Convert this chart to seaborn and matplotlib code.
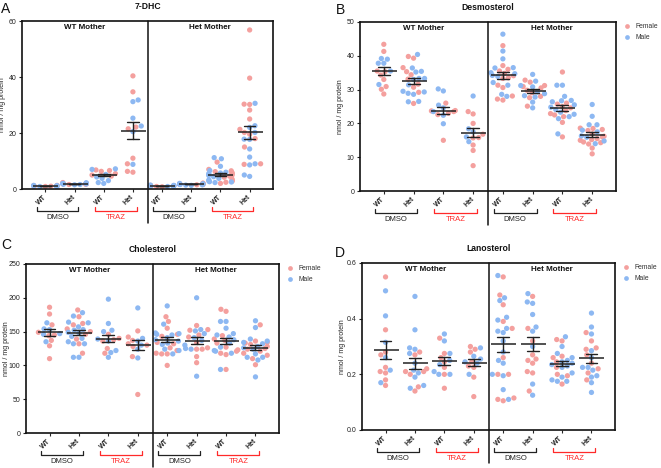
import numpy as np
import pandas as pd
import matplotlib
matplotlib.use("Agg")
import matplotlib.pyplot as plt
from matplotlib.ticker import FormatStrFormatter
from matplotlib.transforms import blended_transform_factory
import seaborn as sns
import warnings
warnings.filterwarnings("ignore")

sns.set_style("ticks")
plt.rcParams['font.family'] = ['Liberation Sans', 'DejaVu Sans']

mothers = ["WT Mother", "Het Mother"]
treatments = ["DMSO", "TRAZ"]
genotypes = ["WT", "Het"]
sexes = ["Female", "Male"]
ylabel = "nmol / mg protein"

# 7-DHC
dhc_f = [
    [1.3, 1.1, 1.0, 1.2, 0.9, 1.0],
    [2.3, 2.0, 1.8, 1.9, 1.7, 1.6, 2.1, 1.8],
    [6.8, 6.6, 6.3, 5.5, 5.0, 4.6],
    [40.4, 34.7, 22.1, 21.5, 11.0, 9.0, 6.0, 6.3],
    [1.2, 1.0, 0.9, 1.3, 1.1, 0.8],
    [1.8, 2.0, 1.7, 1.9, 1.6, 1.5, 2.1],
    [9.6, 7.0, 6.2, 5.8, 5.4, 5.0, 4.6, 4.2, 3.5, 3.0, 2.8, 2.4, 2.0, 6.5],
    [56.8, 39.6, 30.3, 30.2, 28.2, 25.0, 21.3, 20.2, 19.6, 18.0, 15.0, 8.8, 9.0],
]
dhc_m = [
    [1.3, 1.2, 1.0, 0.9, 1.1, 1.0],
    [2.2, 2.0, 1.9, 1.7, 1.6, 1.8, 1.5, 2.1, 1.9],
    [7.2, 7.0, 5.2, 4.3, 3.8, 3.0, 2.3, 2.0],
    [31.8, 31.2, 25.3, 22.5, 20.5, 8.8],
    [1.3, 1.2, 1.1, 1.0, 0.9, 1.4, 1.0, 1.2],
    [1.9, 1.7, 1.6, 1.8, 1.4, 2.0, 1.5, 1.7, 1.3],
    [11.2, 10.8, 8.1, 6.6, 6.0, 5.7, 5.5, 5.2, 4.8, 4.4, 3.8, 3.2, 2.9, 2.6, 2.5, 2.3],
    [30.6, 22.6, 22.0, 20.2, 17.8, 17.7, 14.3, 11.4, 9.0, 8.6, 5.0, 4.5],
]

# Desmosterol
des_f = [
    [43.4, 41.3, 35.5, 35.3, 34.3, 33.0, 30.9, 30.1, 28.7],
    [39.8, 39.3, 36.5, 35.3, 34.4, 33.1, 31.6, 30.7, 29.2, 25.9],
    [26.0, 23.7, 23.8, 23.5, 22.6, 23.0, 15.0],
    [23.5, 22.8, 20.0, 16.8, 15.7, 15.8, 13.6, 12.0, 7.5],
    [43.0, 37.1, 36.0, 35.5, 34.8, 34.1, 33.5, 33.3, 31.3, 30.6, 28.1, 27.2, 26.9],
    [32.8, 32.2, 31.2, 30.9, 30.5, 29.8, 29.1, 28.0, 27.6, 25.1],
    [35.2, 26.0, 25.7, 25.0, 24.6, 23.8, 22.5, 22.9, 22.0, 20.3, 16.0],
    [18.6, 18.5, 18.2, 17.9, 16.9, 16.0, 16.2, 15.5, 15.2, 15.0, 14.5, 14.3, 13.9, 12.7, 11.0],
]
des_m = [
    [39.0, 39.2, 37.8, 37.8, 35.5, 31.5],
    [40.4, 36.4, 35.4, 35.2, 33.3, 33.0, 33.3, 31.4, 29.5, 29.3, 28.9, 28.6, 26.5, 26.4],
    [30.2, 29.6, 25.4, 24.6, 23.5, 22.4, 19.9],
    [28.1, 18.4, 17.5, 16.0, 14.6],
    [46.4, 41.4, 39.1, 36.4, 36.5, 35.0, 34.7, 34.2, 33.9, 32.1, 31.3, 28.6, 28.0],
    [34.5, 32.5, 31.2, 30.8, 29.3, 28.8, 28.2, 27.8, 26.3, 24.6],
    [31.3, 31.3, 28.0, 26.8, 26.4, 26.7, 25.5, 24.8, 24.1, 23.3, 22.7, 22.0, 21.4, 16.9],
    [25.6, 22.1, 19.6, 19.6, 18.0, 17.5, 16.3, 15.9, 14.8, 14.0],
]

# Cholesterol
chol_f = [
    [186, 176, 160, 149, 145, 144, 137, 129, 110],
    [182, 172, 162, 160, 154, 150, 146, 139, 132, 118],
    [146, 140, 138, 136, 125, 118],
    [151, 142, 137, 132, 130, 128, 113, 57],
    [172, 165, 155, 146, 143, 134, 132, 126, 122, 118, 117, 117, 100],
    [159, 153, 152, 145, 142, 134, 126, 124, 124, 113, 104],
    [183, 180, 144, 139, 137, 133, 127, 123, 121, 118, 116, 94],
    [160, 136, 134, 133, 131, 128, 125, 124, 121, 118, 115, 110, 101],
]
chol_m = [
    [163, 154, 153, 147, 146, 135],
    [178, 173, 164, 163, 157, 153, 152, 149, 148, 143, 140, 135, 132, 132, 112, 112],
    [198, 162, 152, 150, 139, 136, 122, 119, 112],
    [185, 140, 136, 130, 124, 111],
    [188, 161, 148, 147, 146, 145, 141, 138, 136, 133, 131, 124, 122, 117],
    [200, 153, 151, 147, 141, 137, 130, 125, 124, 84],
    [165, 165, 155, 147, 145, 142, 138, 133, 127, 122, 121, 118, 94],
    [166, 156, 139, 136, 134, 132, 128, 126, 124, 117, 112, 112, 108, 83],
]

# Lanosterol
lan_f = [
    [0.55, 0.36, 0.28, 0.27, 0.225, 0.205, 0.21, 0.18, 0.16],
    [0.28, 0.27, 0.22, 0.21, 0.21, 0.20, 0.155, 0.14],
    [0.33, 0.275, 0.26, 0.245, 0.225, 0.20, 0.15],
    [0.30, 0.29, 0.28, 0.245, 0.23, 0.225, 0.19, 0.12],
    [0.55, 0.485, 0.45, 0.39, 0.365, 0.26, 0.20, 0.20, 0.115, 0.105, 0.11],
    [0.48, 0.365, 0.32, 0.27, 0.255, 0.25, 0.24, 0.21, 0.205, 0.14],
    [0.325, 0.32, 0.265, 0.26, 0.245, 0.225, 0.20, 0.195, 0.165],
    [0.35, 0.32, 0.295, 0.29, 0.27, 0.24, 0.22, 0.205, 0.18],
]
lan_m = [
    [0.50, 0.41, 0.315, 0.26, 0.215, 0.17],
    [0.48, 0.36, 0.295, 0.29, 0.275, 0.24, 0.215, 0.205, 0.19, 0.16, 0.15],
    [0.345, 0.32, 0.275, 0.25, 0.235, 0.21, 0.20, 0.20],
    [0.295, 0.265, 0.255, 0.245, 0.24, 0.20],
    [0.555, 0.475, 0.465, 0.405, 0.395, 0.365, 0.355, 0.35, 0.32, 0.28, 0.25, 0.24, 0.20, 0.195, 0.145, 0.11],
    [0.49, 0.46, 0.455, 0.415, 0.37, 0.355, 0.30, 0.165, 0.125],
    [0.335, 0.30, 0.275, 0.26, 0.25, 0.245, 0.24, 0.235, 0.23, 0.225, 0.205, 0.19, 0.18, 0.175, 0.175],
    [0.42, 0.37, 0.345, 0.285, 0.26, 0.225, 0.225, 0.215, 0.195, 0.19, 0.17, 0.135],
]

groups = [f"{m}|{t}|{g}" for m in mothers for t in treatments for g in genotypes]
tick_labels = [g for m in mothers for t in treatments for g in genotypes]
palette = {"Female": "#F4A09E", "Male": "#8DB8F2"}
treat_colors = {"DMSO": "#222222", "TRAZ": "#FF2A2A"}


def make_df(fem, male):
    rows = []
    for grp, fv, mv in zip(groups, fem, male):
        rows += [(grp, "Female", v) for v in fv]
        rows += [(grp, "Male", v) for v in mv]
    return pd.DataFrame(rows, columns=["group", "sex", "value"])


panels = [
    ("A", "7-DHC", dhc_f, dhc_m, (0, 60), [0, 20, 40, 60], "%d", False,
     [22 / 661, 1 - 189 / 468, 251 / 661, 168 / 468], (1, 2)),
    ("B", "Desmosterol", des_f, des_m, (0, 50), [0, 10, 20, 30, 40, 50], "%d", True,
     [360 / 661, 1 - 191 / 468, 256 / 661, 169 / 468], (336, 3)),
    ("C", "Cholesterol", chol_f, chol_m, (0, 250), [0, 50, 100, 150, 200, 250], "%d", True,
     [26 / 661, 1 - 433 / 468, 253 / 661, 169 / 468], (1, 238)),
    ("D", "Lanosterol", lan_f, lan_m, (0, 0.6), [0.0, 0.2, 0.4, 0.6], "%.1f", True,
     [362 / 661, 1 - 430 / 468, 253 / 661, 167 / 468], (335, 246)),
]

fig = plt.figure(figsize=(6.61, 4.68), dpi=100)
XLIM = (-0.8, 7.8)

for letter, title, fem, male, ylim, yticks, fmt, show_leg, rect, lpos in panels:
    ax = fig.add_axes(rect)
    df = make_df(fem, male)
    sns.swarmplot(data=df, x="group", y="value", hue="sex", order=groups,
                  hue_order=sexes, palette=palette, size=3.8, linewidth=0,
                  ax=ax, legend=show_leg, zorder=2)
    sns.pointplot(data=df, x="group", y="value", order=groups, errorbar="se",
                  capsize=0.4, color="#222222", marker="_", markersize=18,
                  markeredgewidth=1.1, linestyle="none",
                  err_kws={"linewidth": 1.0}, ax=ax, zorder=5)
    ax.set_xlim(*XLIM)
    ax.set_ylim(*ylim)
    ax.set_yticks(yticks)
    ax.yaxis.set_major_formatter(FormatStrFormatter(fmt))
    ax.set_xticks(range(len(groups)))
    ax.set_xticklabels(tick_labels, rotation=45, ha="right", va="center",
                       rotation_mode="anchor", fontsize=5, fontweight="bold",
                       color="#222222")
    ax.tick_params(axis="y", labelsize=5, length=2.5, width=0.8, pad=1.5,
                   colors="#222222")
    ax.tick_params(axis="x", length=2, width=0.8, pad=3)
    ax.set_xlabel("")
    ax.set_ylabel(ylabel, fontsize=5, color="#222222")
    ax.yaxis.set_label_coords(-0.062, 0.5)
    for sp in ax.spines.values():
        sp.set_visible(True)
        sp.set_linewidth(1.2)
        sp.set_color("#111111")

    # divider between mothers
    ax.axvline(3.5, ymin=-0.2, ymax=1, color="#111111", lw=1.1, clip_on=False)

    # mother labels
    for mi, m in enumerate(mothers):
        xc = (XLIM[0] + 3.5) / 2 if mi == 0 else (3.5 + XLIM[1]) / 2
        ax.text(xc, 0.962, m, transform=blended_transform_factory(ax.transData, ax.transAxes),
                ha="center", va="center", fontsize=5.8, fontweight="bold", color="#111111")

    # treatment brackets
    trans = blended_transform_factory(ax.transData, ax.transAxes)
    for k in range(4):
        t = treatments[k % 2]
        x0, x1 = 2 * k - 0.3, 2 * k + 1.13
        c = treat_colors[t]
        ax.plot([x0, x0, x1, x1], [-0.108, -0.132, -0.132, -0.108], color=c,
                lw=0.9, transform=trans, clip_on=False)
        ax.text((x0 + x1) / 2, -0.168, t, transform=trans, ha="center",
                va="center", fontsize=5.5, color=c)

    # title & panel letter
    ax.text(0.5, 1.085, title, transform=ax.transAxes, ha="center", va="center",
            fontsize=6.2, fontweight="bold", color="#111111")
    fig.text(lpos[0] / 661, 1 - lpos[1] / 468, letter, ha="left", va="top",
             fontsize=10, color="#111111")

    if show_leg:
        sns.move_legend(ax, loc="upper left", bbox_to_anchor=(1.006, 1.03),
                        frameon=False, title=None, fontsize=4.9,
                        handletextpad=0.7, labelspacing=0.6, markerscale=0.9,
                        handlelength=1.0)
        for txt in ax.get_legend().get_texts():
            txt.set_color("#333333")

fig.savefig("out.png", dpi=100)
